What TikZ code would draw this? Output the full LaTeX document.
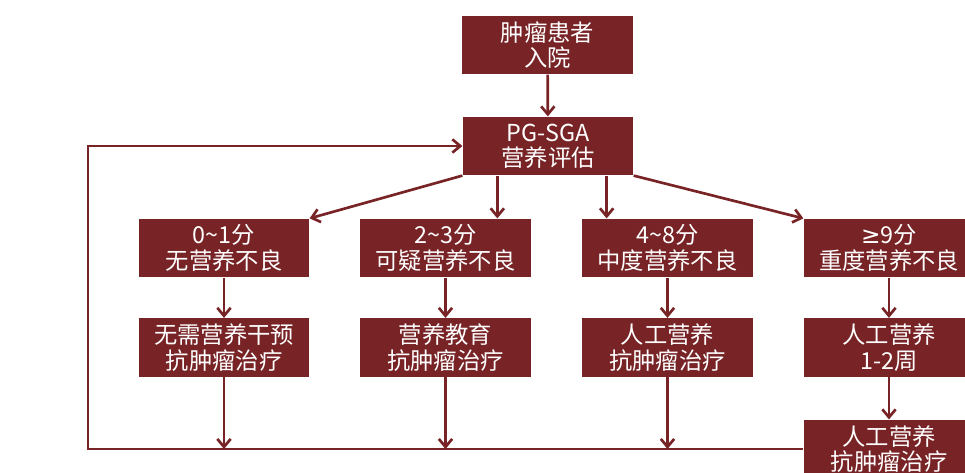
\documentclass[tikz,border=0pt]{standalone}
\usepackage{fontspec}
\setmainfont{Noto Sans CJK SC}
\newfontfamily\symfont{DejaVu Sans}
\usetikzlibrary{arrows.meta}
\definecolor{wine}{RGB}{120,36,38}
\tikzset{stage/.style={fill=wine,text=white,minimum width=128pt,minimum height=44pt,inner sep=2pt,align=center,font=\fontsize{17.5}{19}\selectfont}}
\tikzset{flow/.style={-{Straight Barb[length=6pt,width=10pt]},line width=2pt,wine}}

\begin{document}
\begin{tikzpicture}[x=0.75pt,y=-0.75pt]
            % page size of the source
            \useasboundingbox (0,0) rectangle (965,472);
            % draw the boxes
            \node[stage] (admit) at (547.5,45) {肿瘤患者\\入院};
            \node[stage] (pgsga) at (548,146) {PG-SGA\\营养评估};
            \node[stage] (grade1) at (224,248) {0\textasciitilde1分\\无营养不良};
            \node[stage] (grade2) at (445.5,248) {2\textasciitilde3分\\可疑营养不良};
            \node[stage] (grade3) at (667.5,248) {4\textasciitilde8分\\中度营养不良};
            \node[stage] (grade4) at (889,248) {{\symfont ≥}9分\\重度营养不良};
            \node[stage] (care1) at (224,347.5) {无需营养干预\\抗肿瘤治疗};
            \node[stage] (care2) at (445.5,347.5) {营养教育\\抗肿瘤治疗};
            \node[stage] (care3) at (667.5,347.5) {人工营养\\抗肿瘤治疗};
            \node[stage] (care4) at (889,347.5) {人工营养\\1-2周};
            \node[stage] (care5) at (889,449) {人工营养\\抗肿瘤治疗};
            \coordinate (loop) at (88,449);

            % draw the arrows
            \draw[flow] (admit) -- (pgsga);
            \draw[flow] (pgsga.south west) -- (grade1.north east);
            \draw[flow] ([xshift=-38pt]pgsga.south) -- ([xshift=-38pt]pgsga.south |- grade2.north);
            \draw[flow] ([xshift=44pt]pgsga.south) -- ([xshift=44pt]pgsga.south |- grade3.north);
            \draw[flow] (pgsga.south east) -- (grade4.north west);
            \foreach \i in {1,...,4}
                \draw[flow] (grade\i) -- (care\i);
            \draw[flow] (care4) -- (care5);
            \foreach \i in {1,2,3}
                \draw[flow] (care\i.south) -- (care\i.south |- loop);
            % back to the assessment
            \draw[flow] (care5.west) -- (loop) |- (pgsga.west);
        \end{tikzpicture}
\end{document}
